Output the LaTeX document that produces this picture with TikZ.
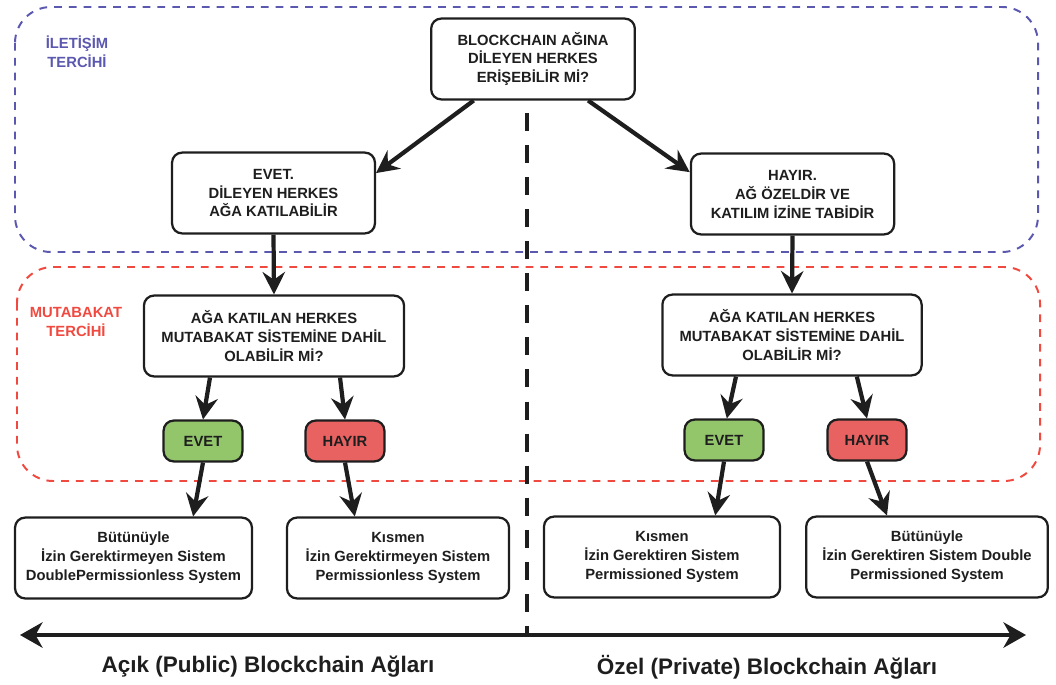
\documentclass[tikz,border=0pt]{standalone}
\usepackage{fontspec}
\setmainfont{Liberation Sans}
\usetikzlibrary{arrows.meta}

\definecolor{iletisim}{HTML}{5B58B0}
\definecolor{mutabakat}{HTML}{F04A40}
\definecolor{evetgreen}{HTML}{93C66B}
\definecolor{hayirred}{HTML}{E96262}
\definecolor{ink}{HTML}{1E1E1E}

\tikzset{
  box/.style={draw=ink, line width=1.6pt, rounded corners=0.25cm, fill=white,
    align=center, minimum height=2.02cm, inner sep=2pt, text=ink,
    font=\fontsize{10.5}{13.5}\selectfont\bfseries},
  tag/.style={box, minimum width=1.97cm, minimum height=1.02cm},
  arr/.style={draw=ink, line width=3pt,
    -{Stealth[length=16pt,width=16pt,inset=5.5pt]}},
  region/.style={line width=1.4pt, dash pattern=on 5.5pt off 5pt,
    rounded corners=0.9cm},
  regionlabel/.style={align=center, font=\fontsize{10.5}{13.5}\selectfont\bfseries},
  sidelabel/.style={text=ink, font=\fontsize{16}{19}\selectfont\bfseries},
  divider/.style={draw=ink, line width=3.4pt, dash pattern=on 12.8pt off 10pt},
  axis/.style={draw=ink, line width=3.4pt,
    {Stealth[length=16pt,width=18pt,inset=5pt]}-{Stealth[length=16pt,width=18pt,inset=5pt]}}
}

\begin{document}
\begin{tikzpicture}[x=0.025cm, y=-0.025cm]
  \useasboundingbox (0,0) rectangle (1056,684);

  % tercih bolgeleri
  \draw[region, draw=iletisim] (15,7) rectangle (1038,252);
  \draw[region, draw=mutabakat] (17,267) rectangle (1040,481);
  \node[regionlabel, text=iletisim] (lbliletisim) at (77,52) {İLETİŞİM\\TERCİHİ};
  \node[regionlabel, text=mutabakat] (lblmutabakat) at (76,322) {MUTABAKAT\\TERCİHİ};

  \coordinate (axl) at (20,635);
  \coordinate (axr) at (1026,635);
  \coordinate (divtop) at (527,113);
  \draw[divider] (divtop) -- (divtop |- axl);
  \draw[axis] (axl) -- (axr);

  \node[box, minimum width=5.09cm] (q0) at (533,59)
    {BLOCKCHAIN AĞINA\\DİLEYEN HERKES\\ERİŞEBİLİR Mİ?};
  \node[box, minimum width=5.07cm] (evet0) at (273.5,193)
    {EVET.\\DİLEYEN HERKES\\AĞA KATILABİLİR};
  \node[box, minimum width=5.08cm] (hayir0) at (792.5,194)
    {HAYIR.\\AĞ ÖZELDİR VE\\KATILIM İZİNE TABİDİR};
  \node[box, minimum width=6.5cm] (q1) at (274,336)
    {AĞA KATILAN HERKES\\MUTABAKAT SİSTEMİNE DAHİL\\OLABİLİR Mİ?};
  \node[box, minimum width=6.48cm] (q2) at (792,335)
    {AĞA KATILAN HERKES\\MUTABAKAT SİSTEMİNE DAHİL\\OLABİLİR Mİ?};

  \node[tag, fill=evetgreen] (evet1) at (203,441) {EVET};
  \node[tag, fill=hayirred] (hayir1) at (345,441) {HAYIR};
  \node[tag, fill=evetgreen] (evet2) at (724,440) {EVET};
  \node[tag, fill=hayirred] (hayir2) at (867,440) {HAYIR};

  \node[box, minimum width=5.92cm] (sys1) at (133.5,558)
    {Bütünüyle\\İzin Gerektirmeyen Sistem\\DoublePermissionless System};
  \node[box, minimum width=5.55cm] (sys2) at (398,558)
    {Kısmen\\İzin Gerektirmeyen Sistem\\Permissionless System};
  \node[box, minimum width=5.9cm] (sys3) at (662,557)
    {Kısmen\\İzin Gerektiren Sistem\\Permissioned System};
  \node[box, minimum width=6.04cm] (sys4) at (927,557)
    {Bütünüyle\\İzin Gerektiren Sistem Double\\Permissioned System};

  \node[sidelabel] (public) at (268,667) {Açık (Public) Blockchain Ağları};
  \node[sidelabel] (private) at (767,667) {Özel (Private) Blockchain Ağları};

  % oklar
  \draw[arr] (q0.215.5) -- (evet0.11.7);
  \draw[arr] (q0.323.3) -- (hayir0.168.3);
  \draw[arr] (evet0.south) -- (q1.north);
  \draw[arr] (hayir0.south) -- (q2.north);
  \draw[arr] ([xshift=-1.6cm]q1.south) -- (evet1.north);
  \draw[arr] ([xshift=1.65cm]q1.south) -- (hayir1.north);
  \draw[arr] ([xshift=-1.4cm]q2.south) -- ([xshift=0.07cm]evet2.north);
  \draw[arr] ([xshift=1.62cm]q2.south) -- (hayir2.north);
  \draw[arr] (evet1.south) -- ([xshift=1.49cm]sys1.north);
  \draw[arr] (hayir1.south) -- ([xshift=-1.08cm]sys2.north);
  \draw[arr] (evet2.south) -- ([xshift=1.33cm]sys3.north);
  \draw[arr] (hayir2.south) -- ([xshift=-1cm]sys4.north);
\end{tikzpicture}
\end{document}
